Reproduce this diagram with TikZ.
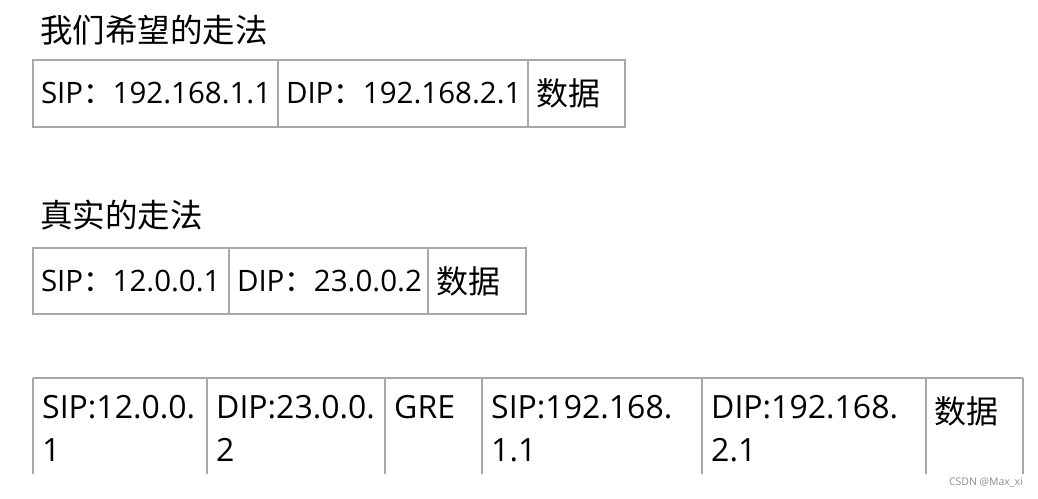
\documentclass[tikz,border=0pt]{standalone}
\usepackage{fontspec}
\setmainfont{Open Sans}
\newfontfamily\cjk{Noto Sans CJK SC}
\definecolor{gridc}{HTML}{A8A8A8}
\definecolor{wm}{HTML}{8C8C8C}
\begin{document}
\begin{tikzpicture}[x=1pt,y=-1pt,
  title/.style={anchor=west,inner sep=0pt,font=\cjk\fontsize{32.5}{33}\selectfont},
  cell/.style={draw=gridc,line width=1.3pt,outer sep=0pt,anchor=north west,inner xsep=8pt,inner ysep=0pt,
    align=left,font=\fontsize{29.5}{30}\selectfont},
  tcell/.style={anchor=north west,inner sep=0pt,align=left,font=\fontsize{32}{43}\selectfont},
  gridline/.style={draw=gridc,line width=1.3pt}]
\useasboundingbox (0,0) rectangle (1038,498);
% row 1
\node[title] (t1) at (40,30) {我们希望的走法};
\node[cell,minimum width=245pt,minimum height=67pt,text width=229pt] (a1) at (33,60) {SIP{\cjk ：}192.168.1.1};
\node[cell,minimum width=250pt,minimum height=67pt,text width=234pt] (a2) at (a1.north east) {DIP{\cjk ：}192.168.2.1};
\node[cell,minimum width=97pt,minimum height=67pt,text width=81pt,font=\cjk\fontsize{32}{32}\selectfont] (a3) at (a2.north east) {数据};
% row 2
\node[title] (t2) at (40,215) {真实的走法};
\node[cell,minimum width=196pt,minimum height=66pt,text width=180pt] (b1) at (33,248) {SIP{\cjk ：}12.0.0.1};
\node[cell,minimum width=199pt,minimum height=66pt,text width=183pt] (b2) at (b1.north east) {DIP{\cjk ：}23.0.0.2};
\node[cell,minimum width=98pt,minimum height=66pt,text width=82pt,font=\cjk\fontsize{32}{32}\selectfont] (b3) at (b2.north east) {数据};
% row 3 grid
\coordinate (c0) at (33,378);
\coordinate (c1) at (207,378);
\coordinate (c2) at (385,378);
\coordinate (c3) at (482,378);
\coordinate (c4) at (702,378);
\coordinate (c5) at (926,378);
\coordinate (c6) at (1023,378);
\draw[gridline] (c0) -- (c6);
\foreach \i in {0,...,6} \draw[gridline] (c\i) -- ++(0,96);
\node[tcell] (d1) at ([xshift=9pt,yshift=-17pt]c0) {SIP:12.0.0.\\1};
\node[tcell] (d2) at ([xshift=9pt,yshift=-17pt]c1) {DIP:23.0.0.\\2};
\node[tcell] (d3) at ([xshift=9pt,yshift=-17pt]c2) {GRE};
\node[tcell] (d4) at ([xshift=9pt,yshift=-17pt]c3) {SIP:192.168.\\1.1};
\node[tcell] (d5) at ([xshift=9pt,yshift=-17pt]c4) {DIP:192.168.\\2.1};
\node[tcell,font=\cjk\fontsize{32}{43}\selectfont] (d6) at ([xshift=8pt,yshift=-18pt]c5) {数据};
\node[anchor=east,inner sep=0pt,text=wm,font=\fontsize{10.5}{11}\selectfont] (w) at (1023,482) {CSDN @Max\_xi};
\end{tikzpicture}
\end{document}
